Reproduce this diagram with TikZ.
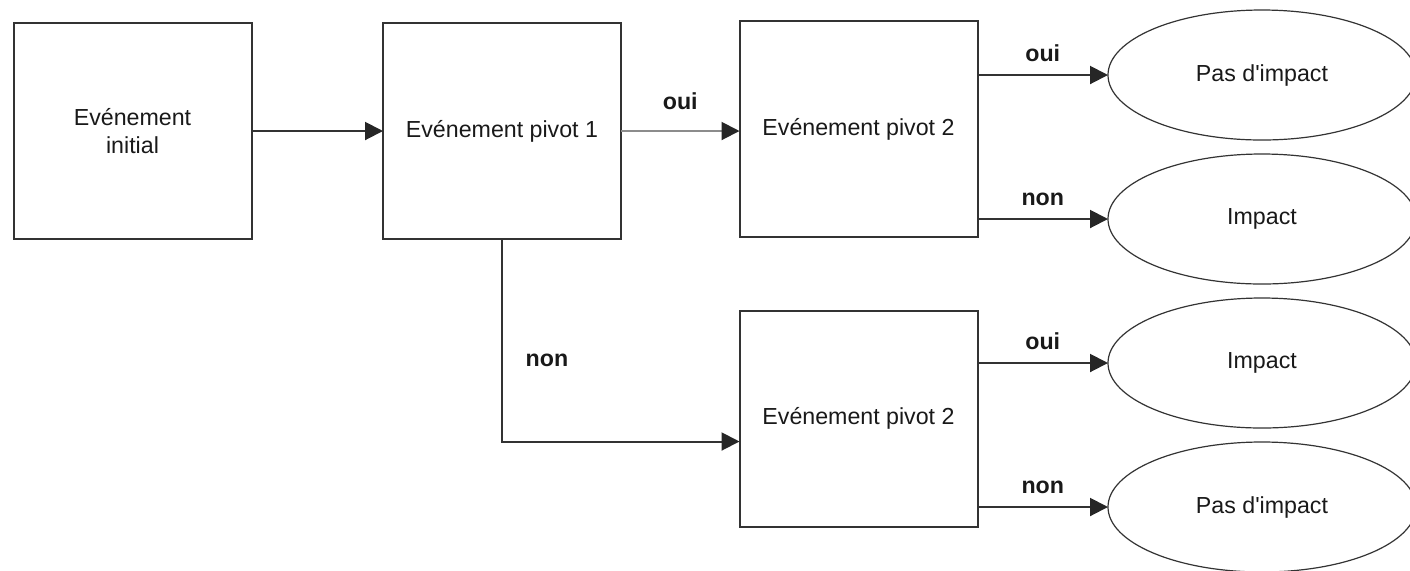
\documentclass[tikz,border=0pt]{standalone}
\usepackage{fontspec}
\setmainfont{Liberation Sans}
\usetikzlibrary{positioning, arrows.meta, shapes.geometric, calc}

\begin{document}
\begin{tikzpicture}[
    x=0.5pt, y=-0.5pt,
    every node/.style={font=\fontsize{11.6}{14}\selectfont, text=black!90},
    event/.style={rectangle, draw=black!80, line width=1pt, minimum width=119pt, minimum height=108pt, align=center, inner sep=0pt, outer sep=0pt},
    outcome/.style={ellipse, draw=black!80, line width=0.6pt, minimum width=154pt, minimum height=65pt, inner sep=0pt, outer sep=0pt},
    arrow/.style={-{Triangle[length=9pt, width=9pt, color=black!85]}, line width=1pt, draw=black!80},
    answer/.style={font=\fontsize{11.6}{14}\selectfont\bfseries}]

  \useasboundingbox (0,0) rectangle (1410,570);

  \node[event] (init)  at (132.5,131) {Evénement\\initial};
  \node[event] (piv1)  at (502,131)   {Evénement pivot 1};
  \node[event] (piv2a) at (858.5,129) {Evénement pivot 2};
  \node[event] (piv2b) at (858.5,418.5) {Evénement pivot 2};

  \node[outcome] (ok1)  at (1262,75)  {Pas d\textquotesingle impact};
  \node[outcome] (imp1) at (1262,219) {Impact};
  \node[outcome] (imp2) at (1262,363) {Impact};
  \node[outcome] (ok2)  at (1262,507) {Pas d\textquotesingle impact};

  \draw[arrow] (init.east) -- (init.east -| piv1.west);
  \draw[arrow, draw=black!45] (piv1.east) -- node[answer, above=7pt]{oui} (piv1.east -| piv2a.west);
  \draw[arrow] (piv2a.east |- ok1) -- node[answer, above=3pt]{oui} (ok1.west);
  \draw[arrow] (piv2a.east |- imp1) -- node[answer, above=3pt]{non} (imp1.west);
  \draw[arrow] (piv1.south) |- node[answer, pos=0.3, right=8pt]{non} ($(piv2b.west)+(0,23)$);
  \draw[arrow] (piv2b.east |- imp2) -- node[answer, above=3pt]{oui} (imp2.west);
  \draw[arrow] (piv2b.east |- ok2) -- node[answer, above=3pt]{non} (ok2.west);
\end{tikzpicture}
\end{document}
